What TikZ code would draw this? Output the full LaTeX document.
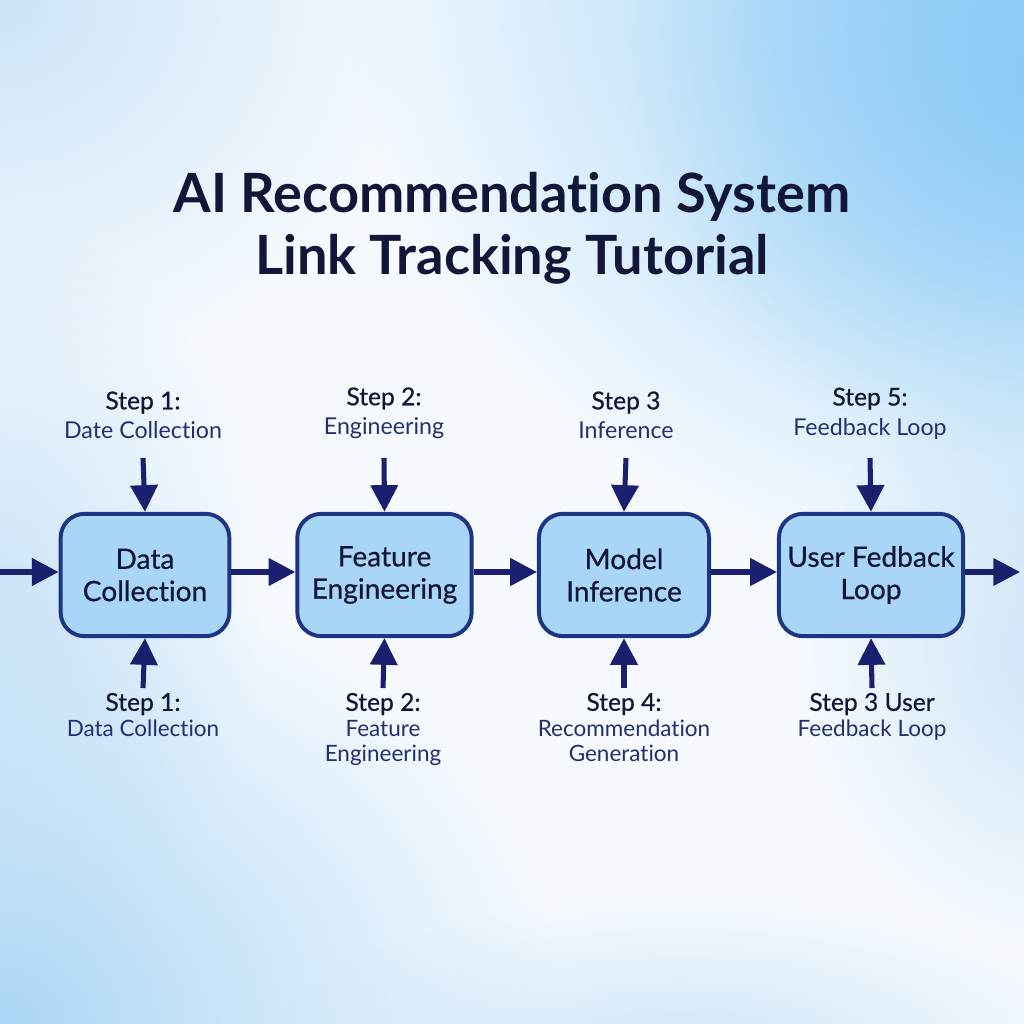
\documentclass[tikz,border=0pt]{standalone}
\usepackage{fontspec}
\setmainfont{Lato}[Ligatures={NoCommon}]
\newfontfamily\semifont{Lato}[FakeBold=0.6,Ligatures={NoCommon}]
\usetikzlibrary{arrows.meta,fadings}
\tikzfading[name=softglow, inner color=transparent!0, outer color=transparent!100]
\definecolor{navy}{HTML}{1A1F6E}
\definecolor{boxfill}{HTML}{A9D6F7}
\definecolor{boxline}{HTML}{1D3582}
\definecolor{ink}{HTML}{121638}
\definecolor{labelblue}{HTML}{223070}
\definecolor{skyA}{HTML}{8CCBF7}
\definecolor{skyB}{HTML}{ABD6F6}
\definecolor{skyC}{HTML}{CDE5F8}
\definecolor{paper}{HTML}{F6FAFE}
\tikzset{
  stage/.style={draw=boxline, line width=2.8pt, fill=boxfill, rounded corners=17pt,
    minimum width=#1, minimum height=87pt, align=center, text=ink,
    font=\semifont\fontsize{20}{23}\selectfont, inner sep=0pt},
  flow/.style={draw=navy, line width=3.6pt, -{Triangle[length=19pt,width=19pt]}},
  steplabel/.style={align=center, text=labelblue, font=\fontsize{16.5}{21}\selectfont},
  stephead/.style={text=ink, font=\semifont\fontsize{17.5}{21}\selectfont},
  glow/.style={fill=#1, path fading=softglow},
  titletext/.style={align=center, text=ink, font=\bfseries\fontsize{38.5}{42}\selectfont}
}
\newcommand\sh[1]{{\semifont\fontsize{17.5}{21}\selectfont\color{ink}#1}}
\begin{document}
\begin{tikzpicture}[x=0.025cm, y=-0.025cm]
\useasboundingbox (0,0) rectangle (1024,1024);
% background
\fill[paper] (0,0) rectangle (1024,1024);
\begin{scope}
\clip (0,0) rectangle (1024,1024);
\fill[glow=skyC] (0,0) ellipse (420 and 380);
\fill[glow=skyC] (0,600) ellipse (260 and 380);
\fill[glow=skyB] (0,1024) ellipse (560 and 460);
\fill[glow=skyC] (680,1060) ellipse (420 and 160);
\fill[glow=skyC] (1060,650) ellipse (260 and 300);
\fill[glow=skyA] (1100,-40) ellipse (760 and 640);
\fill[glow=skyA] (1050,80) ellipse (420 and 380);
\end{scope}
% title
\node[titletext] (title) at (512,228) {AI Recommendation System\\[2pt]Link Tracking Tutorial};
% stages
\node[stage=120pt] (s1) at (145,575) {Data\\Collection};
\node[stage=124pt] (s2) at (384.5,575) {Feature\\Engineering};
\node[stage=121pt] (s3) at (624,575) {Model\\Inference};
\node[stage=131pt] (s4) at (871,575) {User Fedback\\Loop};
\coordinate (in) at (0,572);
\coordinate (out) at (1020,572);
\draw[flow] (in) -- (s1.west |- in);
\draw[flow] (s1.east |- in) -- (s2.west |- in);
\draw[flow] (s2.east |- in) -- (s3.west |- in);
\draw[flow] (s3.east |- in) -- (s4.west |- in);
\draw[flow] (s4.east |- in) -- (out);
% top labels
\node[steplabel, anchor=south] (t1) at (143,444) {\sh{Step 1:}\\Date Collection};
\node[steplabel, anchor=south] (t2) at (384,444) {\sh{Step 2:}\\Engineering};
\node[steplabel, anchor=south] (t3) at (626,444) {\sh{Step 3}\\Inference};
\node[steplabel, anchor=south] (t4) at (870,444) {\sh{Step 5:}\\Feedback Loop};
\draw[flow] (t1.south) ++(0,14) coordinate (t1a) (t1a) -- (s1.north);
\draw[flow] (t2.south) ++(0,14) coordinate (t2a) (t2a) -- (s2.north);
\draw[flow] (t3.south) ++(0,14) coordinate (t3a) (t3a) -- (s3.north);
\draw[flow] (t4.south) ++(0,14) coordinate (t4a) (t4a) -- (s4.north);
% bottom labels
\node[steplabel, anchor=north, font=\fontsize{16}{18}\selectfont] (b1) at (143,688) {\sh{Step 1:}\\Data Collection};
\node[steplabel, anchor=north, font=\fontsize{16}{18}\selectfont] (b2) at (383,688) {\sh{Step 2:}\\Feature\\Engineering};
\node[steplabel, anchor=north, font=\fontsize{16}{18}\selectfont] (b3) at (624,688) {\sh{Step 4:}\\Recommendation\\Generation};
\node[steplabel, anchor=north, font=\fontsize{16}{18}\selectfont] (b4) at (872,688) {\sh{Step 3 User}\\Feedback Loop};
\draw[flow] (b1.north) -- (s1.south);
\draw[flow] (b2.north) -- (s2.south);
\draw[flow] (b3.north) -- (s3.south);
\draw[flow] (b4.north) -- (s4.south);
\end{tikzpicture}
\end{document}
